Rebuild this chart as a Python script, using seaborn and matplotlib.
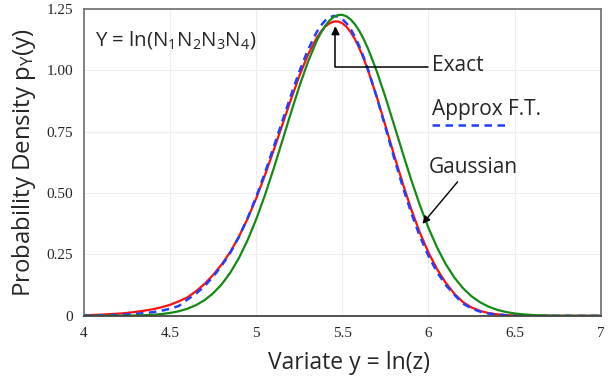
import matplotlib
matplotlib.use("Agg")
import matplotlib.pyplot as plt
import seaborn as sns
import pandas as pd

# ---- data ----
x_vals = [4.00, 4.05, 4.10, 4.15, 4.20, 4.25, 4.30, 4.35, 4.40, 4.45,
          4.50, 4.55, 4.60, 4.65, 4.70, 4.75, 4.80, 4.85, 4.90, 4.95,
          5.00, 5.05, 5.10, 5.15, 5.20, 5.25, 5.30, 5.35, 5.375, 5.40, 5.425, 5.45,
          5.475, 5.50, 5.525, 5.55, 5.575, 5.60, 5.625, 5.65, 5.70, 5.75, 5.80, 5.85, 5.90, 5.95,
          6.00, 6.05, 6.10, 6.15, 6.20, 6.25, 6.30, 6.35, 6.40, 6.45,
          6.50, 6.55, 6.60, 6.65, 6.70, 6.75, 6.80, 6.85, 6.90, 6.95, 7.00]

exact = [0.0025, 0.0035, 0.005, 0.007, 0.009, 0.012, 0.016, 0.021, 0.027, 0.035,
         0.045, 0.059, 0.075, 0.100, 0.130, 0.167, 0.210, 0.261, 0.324, 0.396,
         0.479, 0.572, 0.672, 0.775, 0.878, 0.977, 1.063, 1.131, 1.1575, 1.178, 1.1915, 1.199,
         1.1994, 1.192, 1.177, 1.154, 1.1244, 1.088, 1.0457, 0.998, 0.892, 0.775, 0.656, 0.541, 0.434, 0.339,
         0.258, 0.190, 0.135, 0.090, 0.056, 0.034, 0.020, 0.011, 0.006, 0.003,
         0.0015, 0.0008, 0.0004, 0.0002, 0.0001, 0.0001, 0.0001, 0.0001, 0.0001, 0.0001, 0.0001]

approx_ft = [0.001, 0.0015, 0.002, 0.003, 0.004, 0.006, 0.008, 0.011, 0.015, 0.021,
             0.029, 0.040, 0.066, 0.090, 0.121, 0.160, 0.205, 0.258, 0.322, 0.398,
             0.485, 0.582, 0.685, 0.790, 0.895, 0.995, 1.083, 1.155, 1.182, 1.203, 1.216, 1.222,
             1.219, 1.209, 1.191, 1.166, 1.134, 1.096, 1.051, 1.002, 0.890, 0.768, 0.645, 0.527, 0.419, 0.324,
             0.244, 0.178, 0.126, 0.086, 0.050, 0.030, 0.017, 0.009, 0.005, 0.0025,
             0.0012, 0.0006, 0.0003, 0.0002, 0.0001, 0.0001, 0.0001, 0.0001, 0.0001, 0.0001, 0.0001]

gaussian = [0.0000, 0.0001, 0.0001, 0.0002, 0.0005, 0.0008, 0.0015, 0.0026, 0.0044, 0.0073,
            0.0119, 0.0187, 0.0289, 0.0435, 0.0640, 0.0919, 0.1288, 0.1766, 0.2362, 0.3086,
            0.3937, 0.4907, 0.5973, 0.7099, 0.8241, 0.9341, 1.0342, 1.1183, 1.1525, 1.1809, 1.2027, 1.2177,
            1.2257, 1.2264, 1.2199, 1.2063, 1.1858, 1.1587, 1.1255, 1.0870, 0.9958, 0.8910, 0.7785, 0.6643, 0.5536, 0.4507,
            0.3582, 0.2780, 0.2108, 0.1561, 0.1128, 0.0797, 0.0550, 0.0370, 0.0243, 0.0156,
            0.0098, 0.0060, 0.0036, 0.0021, 0.0012, 0.0007, 0.0004, 0.0002, 0.0001, 0.0001, 0.0000]

x_ticks = [4, 4.5, 5, 5.5, 6, 6.5, 7]
x_tick_labels = ["4", "4.5", "5", "5.5", "6", "6.5", "7"]
y_ticks = [0, 0.25, 0.5, 0.75, 1.0, 1.25]
y_tick_labels = ["0", "0.25", "0.50", "0.75", "1.00", "1.25"]

df = pd.DataFrame({"x": x_vals, "exact": exact, "approx": approx_ft, "gauss": gaussian})

# ---- style ----
sns.set_style("white")
plt.rcParams["font.family"] = ["Open Sans", "DejaVu Sans"]
plt.rcParams["font.serif"] = ["Liberation Serif", "DejaVu Serif"]
plt.rcParams["mathtext.fontset"] = "custom"
plt.rcParams["mathtext.rm"] = "Open Sans"
plt.rcParams["mathtext.it"] = "Open Sans"

RED = "#ff1010"
BLUE = "#2040ff"
GREEN = "#138a13"
DASH = (0, (3.0, 2.2))

fig = plt.figure(figsize=(6.13, 3.76), dpi=100)
ax = fig.add_axes([0.137, 0.160, 0.843, 0.816])

sns.lineplot(data=df, x="x", y="exact", ax=ax, color=RED, linewidth=1.6)
sns.lineplot(data=df, x="x", y="approx", ax=ax, color=BLUE, linewidth=1.8, linestyle=DASH)
sns.lineplot(data=df, x="x", y="gauss", ax=ax, color=GREEN, linewidth=1.6)
for ln in ax.lines:
    ln.set_solid_joinstyle("round")

ax.set_xlim(4, 7)
ax.set_ylim(0, 1.25)
ax.set_xticks(x_ticks)
ax.set_xticklabels(x_tick_labels)
ax.set_yticks(y_ticks)
ax.set_yticklabels(y_tick_labels)
for lab in ax.get_xticklabels() + ax.get_yticklabels():
    lab.set_fontfamily(["Liberation Serif", "DejaVu Serif"])
    lab.set_fontsize(11)
ax.tick_params(axis="both", length=0, pad=8)
ax.grid(True, color="#eeeeee", linewidth=0.8)
ax.set_axisbelow(True)
for s in ax.spines.values():
    s.set_color("#777777")
    s.set_linewidth(1.3)
ax.spines["bottom"].set_color("#444444")

ax.set_xlabel("Variate y = ln(z)", fontsize=16.5, labelpad=3)
ax.xaxis.set_label_coords(0.513, -0.115)
ax.set_ylabel(r"Probability Density p$_\mathregular{Y}$(y)", fontsize=17.3, labelpad=6)

# ---- annotations ----
TXT = 15
ax.text(4.064, 1.124, r"Y = ln(N$_1$N$_2$N$_3$N$_4$)", fontsize=14.7, va="center", ha="left")

ax.text(6.02, 1.018, "Exact", fontsize=TXT, va="center", ha="left")
ax.annotate("", xy=(5.46, 1.18), xytext=(6.0, 1.015),
            arrowprops=dict(arrowstyle="-|>", color="black", lw=1.1,
                            connectionstyle="angle,angleA=0,angleB=90,rad=0",
                            shrinkA=0, shrinkB=0, mutation_scale=12))

ax.text(6.023, 0.839, "Approx F.T.", fontsize=TXT, va="center", ha="left")
ax.plot([6.023, 6.442], [0.778, 0.778], color=BLUE, linewidth=1.8, linestyle=DASH)

ax.text(6.0, 0.603, "Gaussian", fontsize=TXT, va="center", ha="left")
ax.annotate("", xy=(5.965, 0.375), xytext=(6.169, 0.546),
            arrowprops=dict(arrowstyle="-|>", color="black", lw=1.0,
                            shrinkA=0, shrinkB=0, mutation_scale=11))

fig.savefig("out.png", dpi=100)
